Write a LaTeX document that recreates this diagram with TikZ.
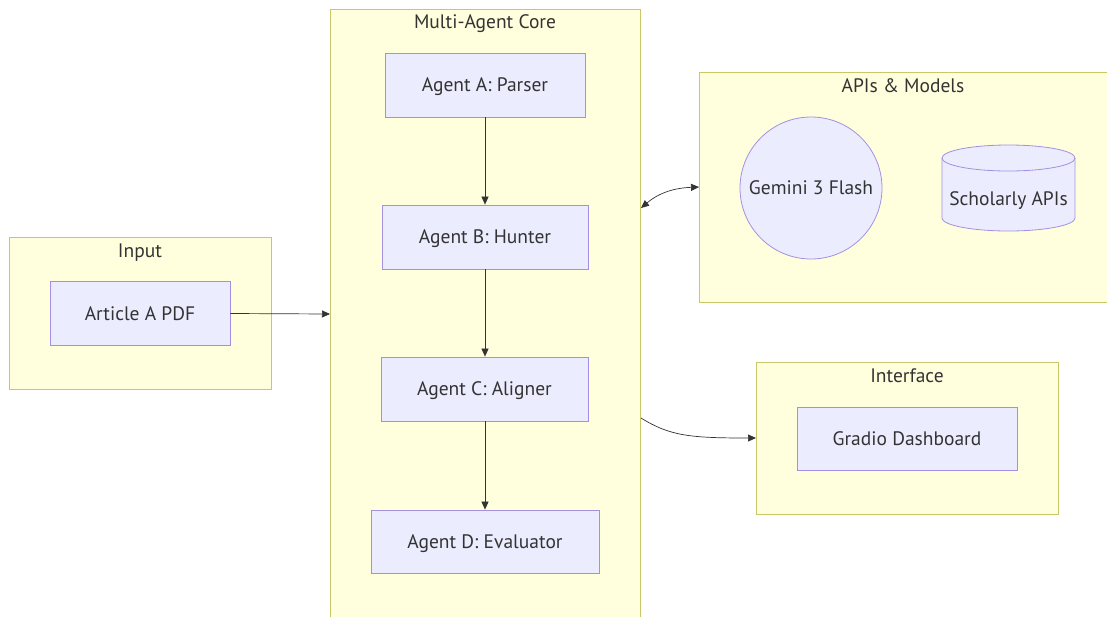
\documentclass[tikz,border=0pt]{standalone}
\usepackage{fontspec}
\setmainfont{PT Sans}
\usetikzlibrary{arrows.meta,shapes.geometric}
\definecolor{clfill}{HTML}{FFFFDE}
\definecolor{cldraw}{HTML}{C8C86A}
\definecolor{ndfill}{HTML}{ECECFF}
\definecolor{nddraw}{HTML}{A58FE0}
\definecolor{txt}{HTML}{333333}
\tikzset{
  cluster/.style={draw=cldraw,fill=clfill,line width=0.8pt},
  lbl/.style={text=txt,font=\fontsize{19.5}{22}\selectfont,text height=13.6pt,text depth=0pt},
  ctitle/.style={lbl,anchor=center},
  agent/.style={lbl,draw=nddraw,fill=ndfill,line width=0.8pt,inner sep=0pt,minimum height=64pt},
  shapeln/.style={draw=nddraw,fill=ndfill,line width=0.8pt},
  edge/.style={draw=txt,line width=0.7pt,-{Triangle[length=8pt,width=7pt]}},
}
\begin{document}
\begin{tikzpicture}[x=1pt,y=-1pt]
\useasboundingbox (0,0) rectangle (1107,616);
% clusters
\path[cluster] (9,237) rectangle (271,389);
\node[ctitle] (tin) at (140,251) {Input};
\path[cluster] (330,9) rectangle (640,625);
\node[ctitle] (tcore) at (485,22) {Multi-Agent Core};
\path[cluster] (699,72) rectangle (1115,302);
\node[ctitle] (tapi) at (903,86) {APIs \& Models};
\path[cluster] (756,362) rectangle (1058,514);
\node[ctitle] (tint) at (907,376) {Interface};
% anchors on cluster borders
\coordinate (coreL) at (330,314);
\coordinate (coreR1) at (641,208);
\coordinate (coreR2) at (641,418);
\coordinate (apiL) at (699,187);
\coordinate (intL) at (756,438);
% nodes
\node[agent,minimum width=180pt] (pdf) at (140,313.5) {Article A PDF};
\node[agent,minimum width=200pt] (a) at (485,85) {Agent A: Parser};
\node[agent,minimum width=206pt] (b) at (485,237) {Agent B: Hunter};
\node[agent,minimum width=207pt] (c) at (484.5,389) {Agent C: Aligner};
\node[agent,minimum width=228pt,minimum height=63pt] (d) at (485,541.5) {Agent D: Evaluator};
\node[lbl,shapeln,circle,minimum size=142pt,inner sep=0pt] (gem) at (811,188) {Gemini 3 Flash};
% cylinder
\path[shapeln] (942,158) -- (942,218) arc[start angle=180,end angle=0,x radius=66.5,y radius=13]
  -- (1075,158) arc[start angle=0,end angle=-180,x radius=66.5,y radius=13] -- cycle;
\draw[draw=nddraw,line width=0.8pt] (942,158) arc[start angle=180,end angle=0,x radius=66.5,y radius=13];
\node[lbl] (sch) at (1008.5,199) {Scholarly APIs};
\node[agent,minimum width=220pt,minimum height=63pt] (gr) at (907,438.5) {Gradio Dashboard};
% edges
\draw[edge] (pdf.east) -- (coreL);
\draw[edge] (a.south) -- (a.south |- b.north);
\draw[edge] (b.south) -- (b.south |- c.north);
\draw[edge] (c.south -| b.south) -- (b.south |- d.north);
\draw[draw=txt,line width=0.7pt,{Triangle[length=8pt,width=7pt]}-{Triangle[length=8pt,width=7pt]}] (coreR1) .. controls (660,192) and (675,188) .. (apiL);
\draw[edge] (coreR2) .. controls (670,436) and (690,438) .. (intL);
\end{tikzpicture}
\end{document}
